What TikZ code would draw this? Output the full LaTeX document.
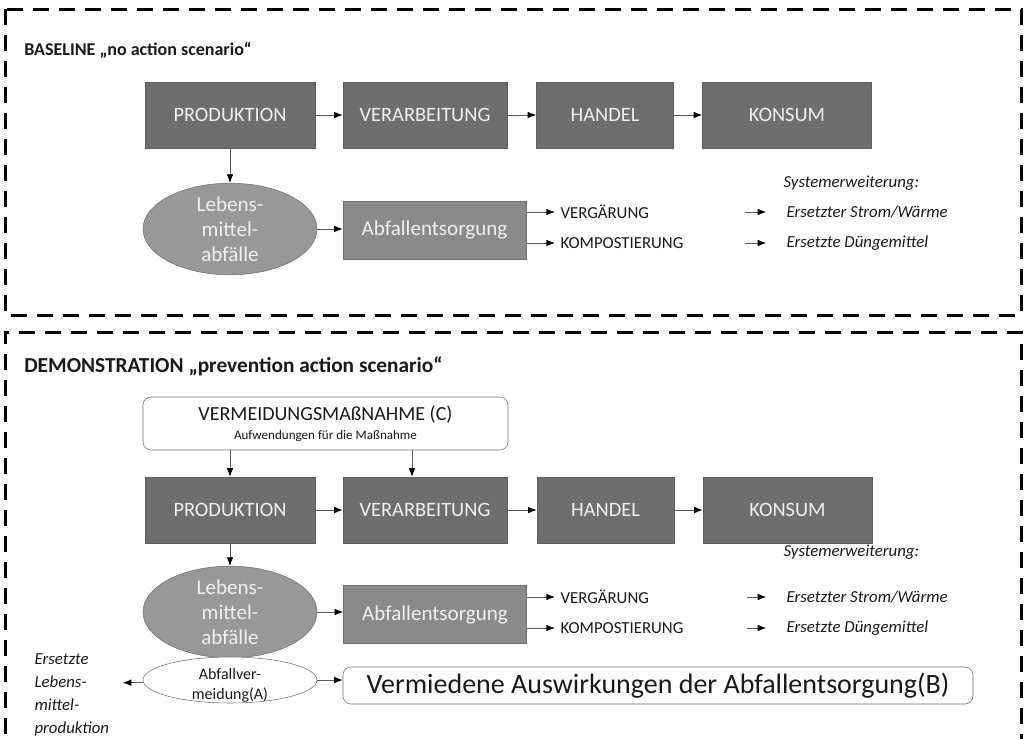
\documentclass[tikz,border=0pt]{standalone}
\usepackage{fontspec}
\setmainfont{Carlito}
\usetikzlibrary{arrows.meta,shapes.geometric}
\definecolor{boxdark}{RGB}{110,110,110}
\definecolor{boxmid}{RGB}{138,138,138}
\definecolor{ovalgray}{RGB}{152,152,152}
\definecolor{linegray}{RGB}{90,90,90}
\definecolor{labelwhite}{RGB}{240,240,240}
\definecolor{txt}{RGB}{25,25,25}

\begin{document}
\begin{tikzpicture}[x=0.75pt,y=-0.75pt,
  frame/.style={line width=2.25pt,dash pattern=on 12pt off 7.5pt},
  stage/.style={draw=boxdark!85!black,fill=boxdark,text=labelwhite,
    font=\fontsize{15.3}{18}\selectfont,minimum width=#1*0.75pt,minimum height=49.5pt,inner sep=0pt},
  waste/.style={ellipse,draw=boxdark,fill=ovalgray,text=labelwhite,align=center,
    font=\fontsize{15.8}{18.75}\selectfont,minimum width=130.5pt,minimum height=66.75pt,inner sep=0pt},
  disposal/.style={draw=boxdark,fill=boxmid,text=labelwhite,font=\fontsize{15.8}{18}\selectfont,
    minimum width=137.25pt,minimum height=43.5pt,inner sep=0pt},
  plain/.style={text=txt,font=\fontsize{12.6}{15}\selectfont,inner sep=1pt,anchor=west},
  ext/.style={text=txt,font=\fontsize{12.6}{15}\selectfont\itshape,inner sep=1pt,anchor=west},
  title/.style={text=txt,font=\fontsize{#1}{16}\selectfont\bfseries,inner sep=0pt,anchor=west},
  flow/.style={draw=linegray,line width=0.7pt,-{Latex[length=6.5pt,width=5pt,black]}},
]
\useasboundingbox (0,0) rectangle (1026,739);

% dashed scenario frames
\draw[frame] (5,9) rectangle (1021,315);
\draw[frame] (5,760) -- (5,332) -- (1021,332) -- (1021,760);

% ---- baseline
\node[title=13.5] (base) at (24,50) {BASELINE „no action scenario“};
\node[stage=170] (prod1) at (230,115) {PRODUKTION};
\node[stage=164] (verarb1) at (425,115) {VERARBEITUNG};
\node[stage=137] (handel1) at (605,115) {HANDEL};
\node[stage=169] (konsum1) at (787,115) {KONSUM};
\node[waste] (lma1) at (230,229) {Lebens-\\mittel-\\abfälle};
\node[disposal] (entsorg1) at (434.5,230) {Abfallentsorgung};
\node[plain] (verg1) at (559,212) {VERGÄRUNG};
\node[plain] (komp1) at (559,243) {KOMPOSTIERUNG};
\node[ext] (syst1) at (782,183) {Systemerweiterung:};
\node[ext] (strom1) at (785,212) {Ersetzter Strom/Wärme};
\node[ext] (dung1) at (785,243) {Ersetzte Düngemittel};
\coordinate (sa1) at (745,212);
\coordinate (sb1) at (745,243);

\draw[flow] (prod1) -- (verarb1);
\draw[flow] (verarb1) -- (handel1);
\draw[flow] (handel1) -- (konsum1);
\draw[flow] (prod1) -- (lma1);
\draw[flow] (lma1.east) -- (entsorg1.west |- lma1.east);
\draw[flow,shorten >=3pt] (entsorg1.east |- verg1) -- (verg1.west);
\draw[flow,shorten >=3pt] (entsorg1.east |- komp1) -- (komp1.west);
\draw[flow,shorten >=14pt] (sa1) -- (strom1.west);
\draw[flow,shorten >=14pt] (sb1) -- (dung1.west);

% ---- demonstration
\node[title=16] (demo) at (24,366) {DEMONSTRATION „prevention action scenario“};
\node[draw=boxdark,rounded corners=6pt,fill=white,minimum width=273.75pt,minimum height=39.75pt,
  align=center,text=txt,inner sep=0pt] (massn) at (325.5,423.5)
  {{\fontsize{15}{17}\selectfont VERMEIDUNGSMAßNAHME (C)}\\[2pt]{\fontsize{9.8}{11}\selectfont Aufwendungen für die Maßnahme}};
\node[stage=170] (prod2) at (230,510) {PRODUKTION};
\node[stage=164] (verarb2) at (425,510) {VERARBEITUNG};
\node[stage=137] (handel2) at (605.5,510) {HANDEL};
\node[stage=169] (konsum2) at (787.5,510) {KONSUM};
\node[waste] (lma2) at (230,612) {Lebens-\\mittel-\\abfälle};
\node[disposal] (entsorg2) at (435,614.5) {Abfallentsorgung};
\node[plain] (verg2) at (559,597) {VERGÄRUNG};
\node[plain] (komp2) at (559,628) {KOMPOSTIERUNG};
\node[ext] (syst2) at (782,552) {Systemerweiterung:};
\node[ext] (strom2) at (785,597) {Ersetzter Strom/Wärme};
\node[ext] (dung2) at (785,628) {Ersetzte Düngemittel};
\coordinate (sa2) at (747,597);
\coordinate (sb2) at (747,628);
\node[ellipse,draw=boxdark,fill=white,minimum width=130.5pt,minimum height=34.5pt,inner sep=0pt,
  label={[text=txt,align=center,font=\fontsize{12}{15}\selectfont,yshift=-4pt]center:Abfallver-\\meidung(A)}]
  (verm) at (230,680) {};
\node[draw=boxdark,rounded corners=6pt,fill=white,text=txt,font=\fontsize{21}{24}\selectfont,
  minimum width=472.5pt,minimum height=27.75pt,inner sep=0pt] (auswB) at (658,685.5)
  {Vermiedene Auswirkungen der Abfallentsorgung(B)};
\node[ext,align=left,font=\fontsize{12.6}{17.25}\selectfont\itshape] (ersatz) at (33,695)
  {Ersetzte\\Lebens-\\mittel-\\produktion};

\draw[flow] (prod2.north |- massn.south) -- (prod2.north);
\draw[flow] ([xshift=-9.75pt]verarb2.north |- massn.south) -- ([xshift=-9.75pt]verarb2.north);
\draw[flow] (prod2) -- (verarb2);
\draw[flow] (verarb2) -- (handel2);
\draw[flow] (handel2) -- (konsum2);
\draw[flow] (prod2) -- (lma2);
\draw[flow] (lma2.east) -- (entsorg2.west |- lma2.east);
\draw[flow,shorten >=3pt] (entsorg2.east |- verg2) -- (verg2.west);
\draw[flow,shorten >=3pt] (entsorg2.east |- komp2) -- (komp2.west);
\draw[flow,shorten >=14pt] (sa2) -- (strom2.west);
\draw[flow,shorten >=14pt] (sb2) -- (dung2.west);
\draw[flow] ([yshift=-2pt]verm.west) -- ([yshift=-2pt,xshift=9pt]verm.west -| ersatz.east);
\draw[flow] (verm.east) -- (auswB.west |- verm.east);
\end{tikzpicture}
\end{document}
